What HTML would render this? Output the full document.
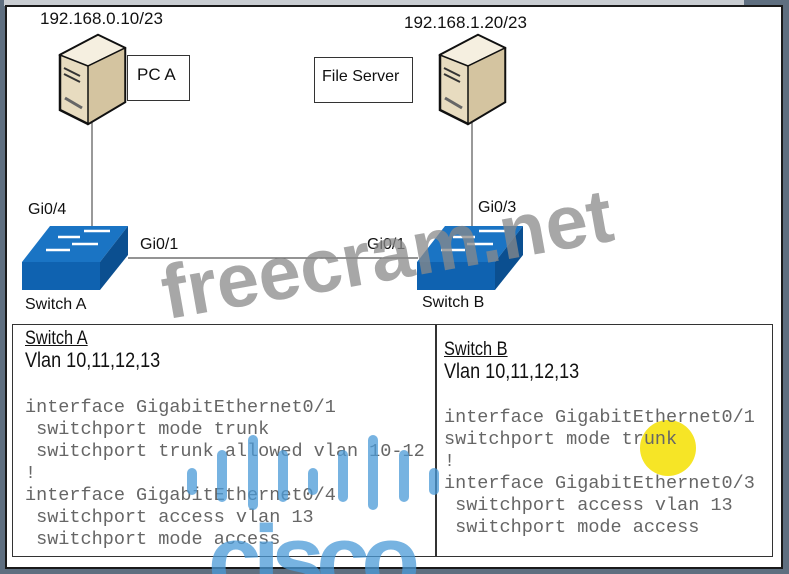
<!DOCTYPE html>
<html><head><meta charset="utf-8"><style>
body{margin:0;width:789px;height:574px;background:#5f6f80;position:relative;overflow:hidden;font-family:"Liberation Sans",sans-serif}
.p{position:absolute}
.t{position:absolute;font-size:16px;color:#111;white-space:nowrap}
.m{position:absolute;font-family:"Liberation Mono",monospace;font-size:18.5px;line-height:22px;color:#666;white-space:pre}
</style></head><body>
<div class="p" style="left:4px;top:0;width:740px;height:6px;background:#c9cdd2"></div>
<div class="p" style="left:5px;top:5px;width:774px;height:560px;background:#fff;border:2px solid #1a1a1a"></div>
<svg class="p" style="left:0;top:0" width="789" height="574">
<line x1="92" y1="120" x2="92" y2="228" stroke="#555" stroke-width="1.2"/>
<line x1="472" y1="120" x2="472" y2="228" stroke="#555" stroke-width="1.2"/>
<line x1="128" y1="258" x2="418" y2="258" stroke="#555" stroke-width="1.2"/>
<g id="pc">
<polygon points="60,55 98,35 125,48 125,102 88,124 60,110" fill="#e8dcc0" stroke="#111" stroke-width="2.5"/>
<polygon points="60,55 98,35 125,48 88,66" fill="#f5efe0" stroke="#111" stroke-width="1.5"/>
<polygon points="88,66 125,48 125,102 88,124" fill="#d4c4a0" stroke="#111" stroke-width="1.5"/>
<line x1="64" y1="68" x2="80" y2="76" stroke="#333" stroke-width="2"/>
<line x1="64" y1="74" x2="80" y2="82" stroke="#333" stroke-width="2"/>
<line x1="65" y1="98" x2="82" y2="108" stroke="#666" stroke-width="3"/>
</g>
<use href="#pc" x="380" y="0"/>
<g id="sw">
<polygon points="22,262 50,226 128,226 100,262" fill="#1a74c4"/>
<polygon points="22,262 100,262 100,290 22,290" fill="#0f62b0"/>
<polygon points="100,262 128,226 128,255 100,290" fill="#0b4f90"/>
<g stroke="#fff" stroke-width="2.5" fill="none"><line x1="84" y1="231" x2="110" y2="231"/><line x1="58" y1="237" x2="80" y2="237"/><line x1="72" y1="244" x2="98" y2="244"/><line x1="46" y1="250" x2="70" y2="250"/></g>
</g>
<use href="#sw" x="395" y="0"/>
</svg>
<div class="p" style="left:127px;top:55px;width:61px;height:44px;border:1.5px solid #333;background:#fff"></div>
<div class="t" style="left:137px;top:65px;font-size:17px">PC A</div>
<div class="p" style="left:314px;top:57px;width:97px;height:44px;border:1.5px solid #333;background:#fff"></div>
<div class="t" style="left:322px;top:68px;font-size:16px">File Server</div>
<div class="t" style="left:40px;top:9px;font-size:17px">192.168.0.10/23</div>
<div class="t" style="left:404px;top:13px;font-size:17px">192.168.1.20/23</div>
<div class="t" style="left:28px;top:201px">Gi0/4</div>
<div class="t" style="left:478px;top:199px">Gi0/3</div>
<div class="t" style="left:140px;top:236px">Gi0/1</div>
<div class="t" style="left:367px;top:236px">Gi0/1</div>
<div class="t" style="left:25px;top:296px">Switch A</div>
<div class="t" style="left:422px;top:294px">Switch B</div>
<div class="p" style="left:12px;top:324px;width:759px;height:231px;border:1.5px solid #333"></div>
<div class="p" style="left:435px;top:325px;width:1.5px;height:231px;background:#333"></div>
<div class="t" style="left:25px;top:328px;font-size:19px;text-decoration:underline;transform:scaleX(.86);transform-origin:left">Switch A</div>
<div class="t" style="left:25px;top:349px;font-size:21px;transform:scaleX(.86);transform-origin:left">Vlan 10,11,12,13</div>
<div class="t" style="left:444px;top:339px;font-size:19px;text-decoration:underline;transform:scaleX(.86);transform-origin:left">Switch B</div>
<div class="t" style="left:444px;top:360px;font-size:21px;transform:scaleX(.86);transform-origin:left">Vlan 10,11,12,13</div>
<div class="m" style="left:25px;top:397px">interface GigabitEthernet0/1
 switchport mode trunk
 switchport trunk allowed vlan 10-12
!
interface GigabitEthernet0/4
 switchport access vlan 13
 switchport mode access</div>
<div class="p" style="left:640px;top:420px;width:56px;height:56px;border-radius:50%;background:#f5e000;opacity:.85"></div>
<div class="m" style="left:444px;top:407px">interface GigabitEthernet0/1
switchport mode trunk
!
interface GigabitEthernet0/3
 switchport access vlan 13
 switchport mode access</div>
<svg class="p" style="left:0;top:0" width="789" height="574" opacity="0.75">
<g stroke="#4a9ad8" stroke-width="10" stroke-linecap="round">
<line x1="192" y1="473" x2="192" y2="490"/><line x1="222" y1="455" x2="222" y2="497"/><line x1="253" y1="440" x2="253" y2="505"/>
<line x1="283" y1="455" x2="283" y2="497"/><line x1="313" y1="473" x2="313" y2="490"/>
<line x1="343" y1="455" x2="343" y2="497"/><line x1="373" y1="440" x2="373" y2="505"/><line x1="404" y1="455" x2="404" y2="497"/><line x1="434" y1="473" x2="434" y2="490"/>
</g>
<text x="208" y="592" font-family="Liberation Sans,sans-serif" font-weight="bold" font-size="96" fill="#4a9ad8" textLength="212">cisco</text>
</svg>
<div class="p" style="left:170px;top:250px;font-family:'Liberation Sans',sans-serif;font-weight:bold;font-size:76px;color:#8a8a8a;opacity:.75;transform:rotate(-10deg);transform-origin:left bottom;white-space:nowrap">freecram.net</div>
</body></html>
